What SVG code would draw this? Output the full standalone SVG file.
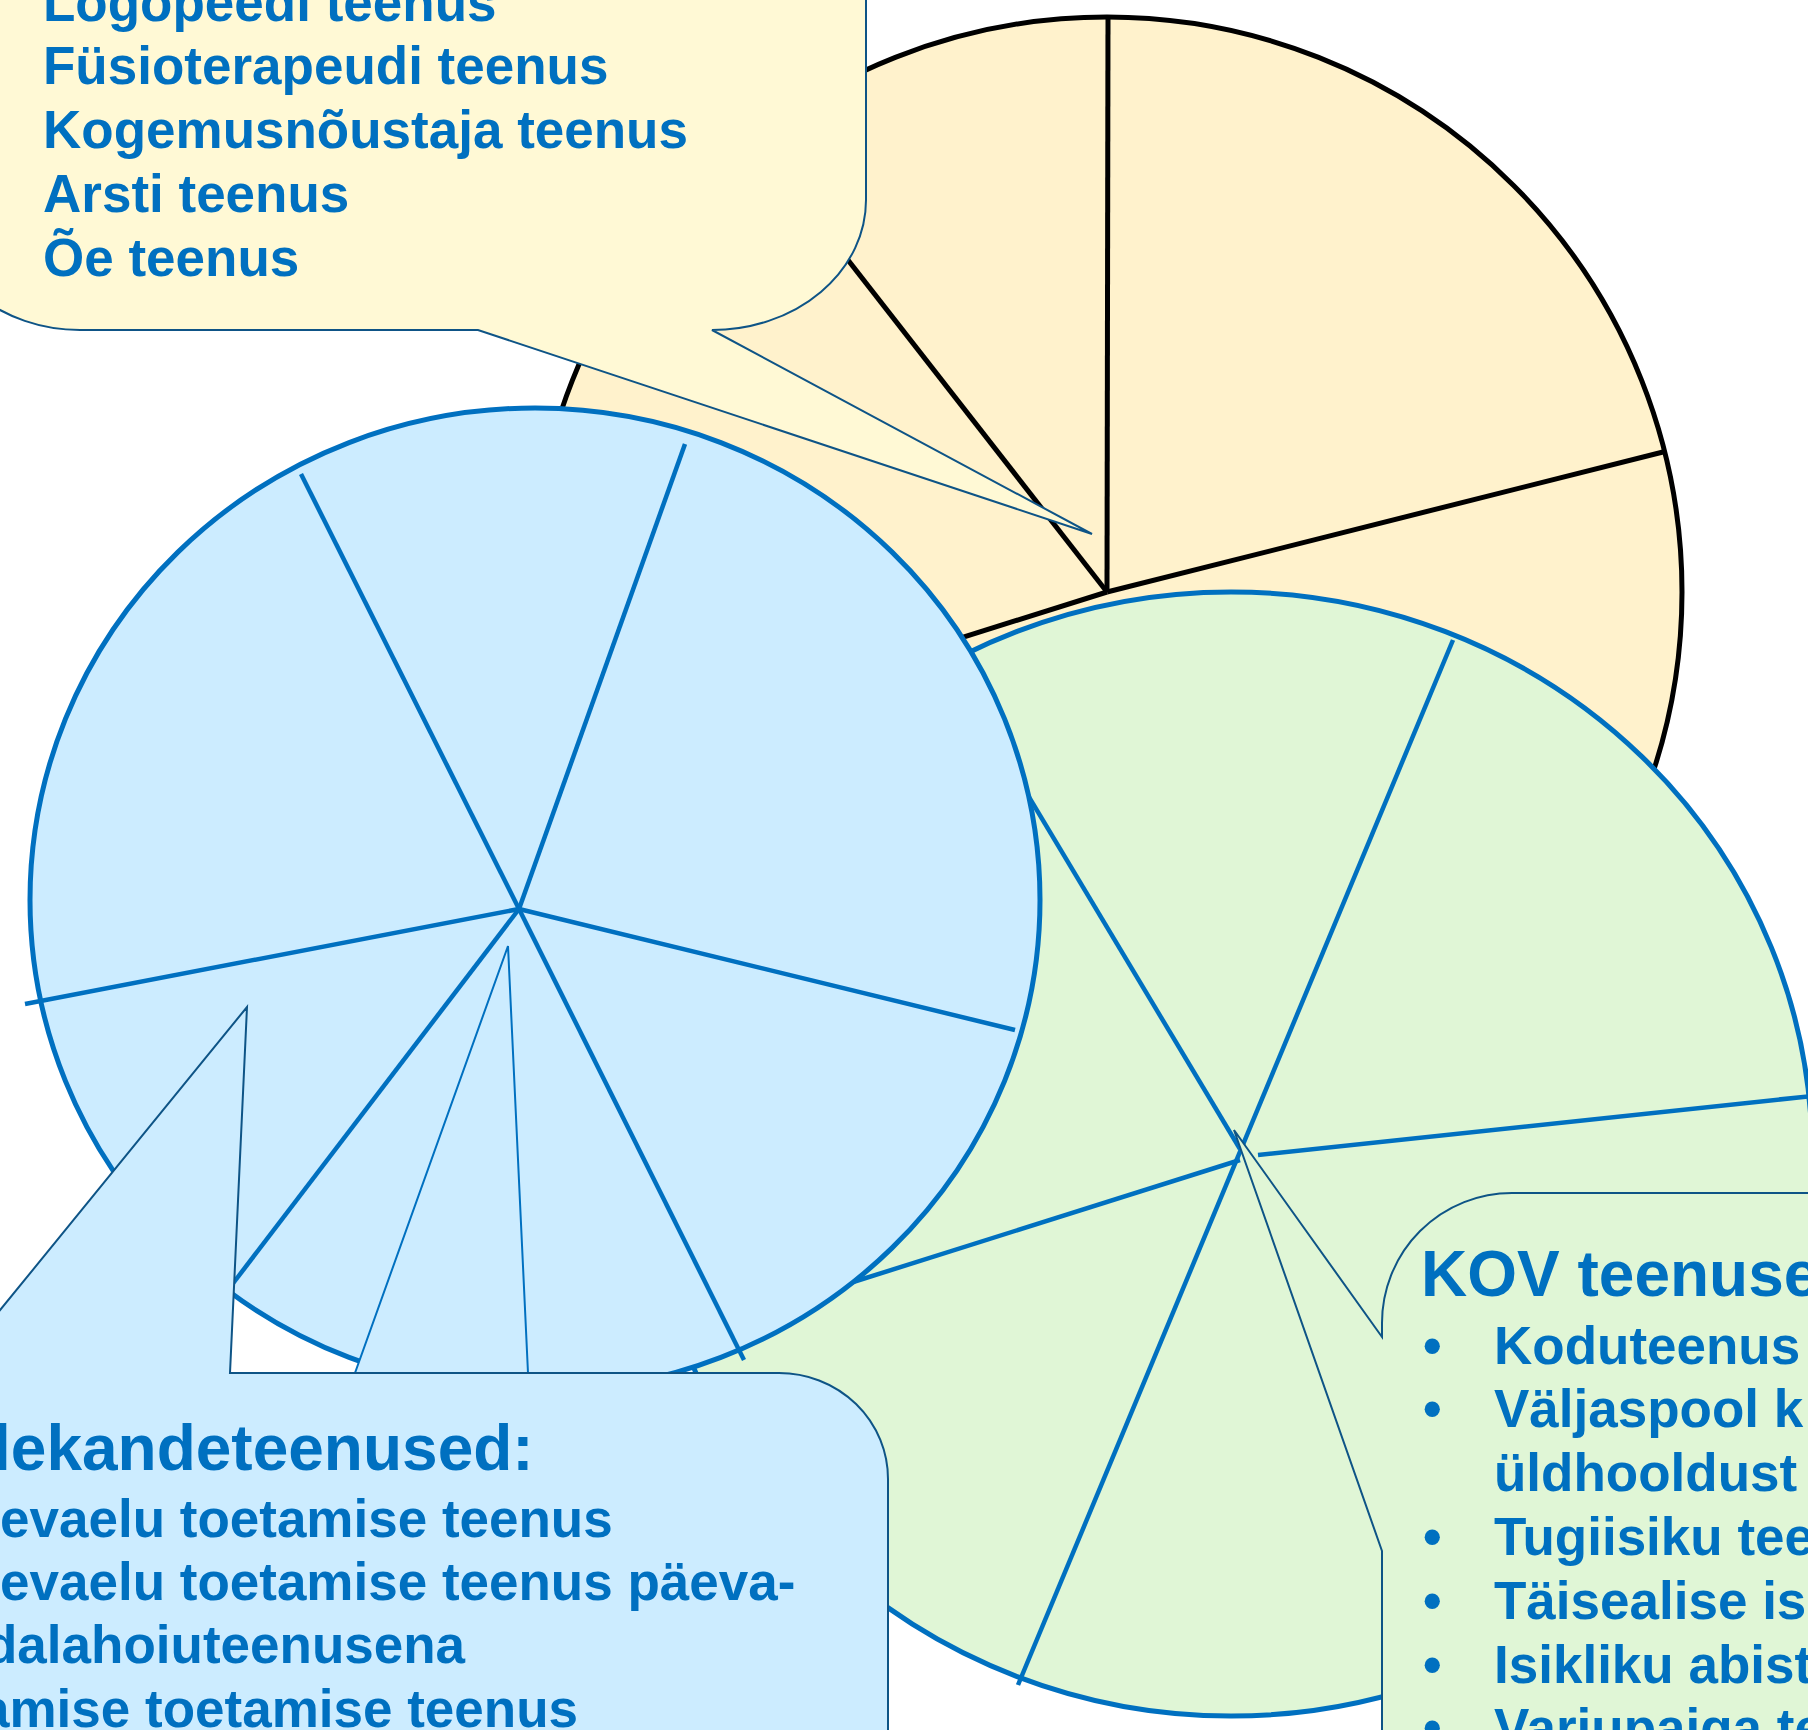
<svg xmlns="http://www.w3.org/2000/svg" width="1808" height="1730" viewBox="0 0 1808 1730">
<style>
.t{font-family:"Liberation Sans",Arial,Helvetica,sans-serif;font-weight:bold;fill:#0070C0}
.item{font-size:53px}
.title{font-size:64px}
.bspoke{stroke:#0070C0;stroke-width:4.5;fill:none;stroke-linecap:butt}
.kspoke{stroke:#000;stroke-width:5;fill:none}
.call{stroke:#0E5486;stroke-width:2;stroke-linejoin:miter}
</style>
<rect x="0" y="0" width="1808" height="1730" fill="#FFFFFF"/>

<g id="yellow-pie">
  <circle cx="1107" cy="592" r="575" fill="#FFF2CC" stroke="#000" stroke-width="5"/>
  <line class="kspoke" x1="1107" y1="592" x2="1108" y2="17"/>
  <line class="kspoke" x1="1107" y1="592" x2="1663" y2="452"/>
  <line class="kspoke" x1="1107" y1="592" x2="752" y2="137"/>
  <line class="kspoke" x1="1107" y1="592" x2="557" y2="765"/>
</g>

<g id="yellow-callout">
  <path class="call" fill="#FFF9D5" d="M -70 -300 H 866 V 200 A 154 130 0 0 1 712 330 L 1092 534 L 478 330 H 80 A 150 130 0 0 1 -70 200 Z"/>
  <text class="t item" x="43" y="21">Logopeedi teenus</text>
  <text class="t item" x="43" y="84">Füsioterapeudi teenus</text>
  <text class="t item" x="43" y="148">Kogemusnõustaja teenus</text>
  <text class="t item" x="43" y="212">Arsti teenus</text>
  <text class="t item" x="43" y="276">Õe teenus</text>
</g>

<g id="green-pie">
  <ellipse cx="1231" cy="1154" rx="581" ry="562" fill="#E0F6D6" stroke="#0070C0" stroke-width="5"/>
  <line class="bspoke" x1="1240" y1="1149" x2="1005" y2="757"/>
  <line class="bspoke" x1="1453" y1="640" x2="1018" y2="1685"/>
  <line class="bspoke" x1="1258" y1="1155" x2="1812" y2="1096"/>
  <line class="bspoke" x1="1240" y1="1160" x2="850" y2="1283"/>
</g>

<g id="blue-pie">
  <ellipse cx="535" cy="900" rx="505" ry="492" fill="#CCECFF" stroke="#0070C0" stroke-width="5"/>
  <line class="bspoke" x1="519" y1="909" x2="301" y2="474"/>
  <line class="bspoke" x1="519" y1="909" x2="685" y2="444"/>
  <line class="bspoke" x1="519" y1="909" x2="1015" y2="1030"/>
  <line class="bspoke" x1="519" y1="909" x2="25" y2="1004"/>
  <line class="bspoke" x1="519" y1="909" x2="231" y2="1286"/>
  <line class="bspoke" x1="519" y1="909" x2="744" y2="1360"/>
</g>

<g id="blue-callout">
  <polygon points="508,946 355,1373 528,1373" fill="#CCECFF" stroke="#0070C0" stroke-width="2"/>
  <path class="call" fill="#CCECFF" d="M 247 1007 L 230 1373 H 779 A 109 106 0 0 1 888 1479 V 1745 H -30 V 1347 Z"/>
  <text class="t title" x="-7" y="1470">lekandeteenused:</text>
  <text class="t item" x="0" y="1537">evaelu toetamise teenus</text>
  <text class="t item" x="0" y="1600">evaelu toetamise teenus päeva-</text>
  <text class="t item" x="-15" y="1663">dalahoiuteenusena</text>
  <text class="t item" x="-20" y="1727">amise toetamise teenus</text>
</g>

<g id="kov-callout">
  <path class="call" fill="#E0F6D6" d="M 1382 1551 L 1234 1130 L 1382 1337 V 1323 A 130 130 0 0 1 1512 1193 H 1830 V 1750 H 1382 Z"/>
  <text class="t title" x="1421" y="1296">KOV teenuse</text>
  <text class="t item" x="1423" y="1364">•</text>
  <text class="t item" x="1494" y="1364">Koduteenus</text>
  <text class="t item" x="1423" y="1427">•</text>
  <text class="t item" x="1494" y="1427">Väljaspool k</text>
  <text class="t item" x="1494" y="1491">üldhooldust</text>
  <text class="t item" x="1423" y="1555">•</text>
  <text class="t item" x="1494" y="1555">Tugiisiku tee</text>
  <text class="t item" x="1423" y="1619">•</text>
  <text class="t item" x="1494" y="1619">Täisealise is</text>
  <text class="t item" x="1423" y="1683">•</text>
  <text class="t item" x="1494" y="1683">Isikliku abist</text>
  <text class="t item" x="1423" y="1746">•</text>
  <text class="t item" x="1494" y="1746">Varjupaiga te</text>
</g>
</svg>
